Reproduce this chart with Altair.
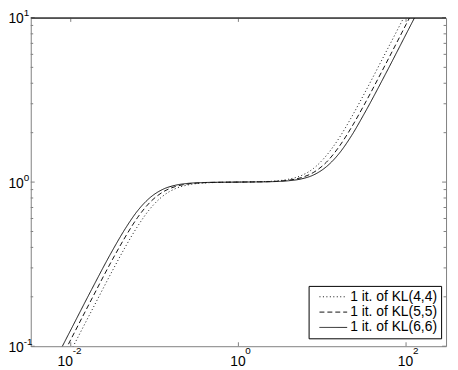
import altair as alt
import pandas as pd

# ---- data (log-log) ----
x_vals = [0.00316, 0.00562, 0.01, 0.0178, 0.0316, 0.0447, 0.0631, 0.0891, 0.126,
          0.178, 0.251, 0.398, 0.631, 1.0, 1.585, 2.512, 3.98, 5.62, 7.94, 11.2,
          15.85, 22.4, 31.6, 56.2, 100.0, 178.0, 316.0]
y_kl44 = [0.0295, 0.0525, 0.0933, 0.165, 0.290, 0.402, 0.540, 0.691, 0.823, 0.913,
          0.961, 0.988, 0.996, 1.0, 1.004, 1.012, 1.041, 1.095, 1.215, 1.45, 1.85,
          2.49, 3.44, 6.05, 10.7, 19.1, 33.9]
y_kl55 = [0.0347, 0.0617, 0.1096, 0.194, 0.339, 0.463, 0.611, 0.757, 0.871, 0.940,
          0.974, 0.992, 0.9975, 1.0, 1.0025, 1.008, 1.027, 1.064, 1.148, 1.32, 1.64,
          2.16, 2.95, 5.15, 9.12, 16.2, 28.8]
y_kl66 = [0.0398, 0.0708, 0.1256, 0.2223, 0.3846, 0.520, 0.671, 0.807, 0.904, 0.957,
          0.982, 0.994, 0.998, 1.0, 1.002, 1.006, 1.019, 1.045, 1.107, 1.24, 1.49,
          1.92, 2.60, 4.50, 7.96, 14.1, 25.1]
series_names = ["1 it. of KL(4,4)", "1 it. of KL(5,5)", "1 it. of KL(6,6)"]

x_major = [0.01, 1, 100]
x_exponents = ["-2", "0", "2"]
y_major = [0.1, 1, 10]
y_exponents = ["-1", "0", "1"]
y_minor = [0.2, 0.3, 0.4, 0.5, 0.6, 0.7, 0.8, 0.9, 2, 3, 4, 5, 6, 7, 8, 9]
x_domain = [1 / 300, 300]
y_domain = [0.1, 10]

rows = []
for name, ys in zip(series_names, [y_kl44, y_kl55, y_kl66]):
    for xv, yv in zip(x_vals, ys):
        rows.append({"x": xv, "y": yv, "series": name})
df = pd.DataFrame(rows)

FONT = "Liberation Sans"
AX = "#808080"
W, H = 420, 332

xscale = alt.Scale(type="log", domain=x_domain, nice=False)
yscale = alt.Scale(type="log", domain=y_domain, nice=False)

xaxis = alt.Axis(values=x_major, title=None, grid=False, ticks=False, domain=False,
                 labelExpr="'10'", labelFont=FONT, labelFontSize=14,
                 labelColor="black", labelPadding=9,
                 labelOffset={"condition": {"test": "datum.value < 0.1", "value": -6},
                              "value": -1})
yaxis = alt.Axis(values=y_major, title=None, grid=False, ticks=False, domain=False,
                 labelExpr="'10'", labelFont=FONT, labelFontSize=14,
                 labelColor="black", labelPadding=7.5, labelOffset=1)

lines = alt.Chart(df).mark_line(clip=True, color="#111111", strokeWidth=1,
                                interpolate="monotone").encode(
    x=alt.X("x:Q", scale=xscale, axis=xaxis),
    y=alt.Y("y:Q", scale=yscale, axis=yaxis),
    strokeDash=alt.StrokeDash(
        "series:N",
        scale=alt.Scale(domain=series_names, range=[[1, 2.5], [5, 3], [1, 0]]),
        legend=alt.Legend(orient="none", legendX=281, legendY=271, title=None,
                          symbolType="M0,0H8", symbolSize=49, symbolStrokeWidth=1,
                          symbolStrokeColor="#111111", symbolOffset=0,
                          labelFont=FONT, labelFontSize=14, labelColor="black",
                          labelOffset=24, fillColor="white", strokeColor="black",
                          padding=4, rowPadding=1.5, cornerRadius=0)),
)

ymaj = pd.DataFrame({"v": y_major})
ymin = pd.DataFrame({"v": y_minor})
xmaj = pd.DataFrame({"v": x_major})

def yticks(data, x0, x1):
    return alt.Chart(data).mark_rule(color=AX, strokeWidth=1).encode(
        y=alt.Y("v:Q", scale=yscale, axis=yaxis), x=alt.value(x0), x2=alt.value(x1))

def xticks(data, y0, y1):
    return alt.Chart(data).mark_rule(color=AX, strokeWidth=1).encode(
        x=alt.X("v:Q", scale=xscale, axis=xaxis), y=alt.value(y0), y2=alt.value(y1))

top_line = alt.Chart(pd.DataFrame({"v": [y_domain[1]]})).mark_rule(
    color="black", strokeWidth=1).encode(
    y=alt.Y("v:Q", scale=yscale, axis=yaxis), x=alt.value(0), x2=alt.value(W))

xexp = pd.DataFrame({"v": x_major, "e": x_exponents})
x_exp_neg = alt.Chart(xexp[xexp["v"] < 0.1]).mark_text(
    align="left", baseline="middle", dx=2, fontSize=10, font=FONT, color="black").encode(
    x=alt.X("v:Q", scale=xscale, axis=xaxis), y=alt.value(H + 4.5), text="e:N")
x_exp_pos = alt.Chart(xexp[xexp["v"] >= 0.1]).mark_text(
    align="left", baseline="middle", dx=7, fontSize=10, font=FONT, color="black").encode(
    x=alt.X("v:Q", scale=xscale, axis=xaxis), y=alt.value(H + 4.5), text="e:N")
y_exp = alt.Chart(pd.DataFrame({"v": y_major, "e": y_exponents})).mark_text(
    align="left", baseline="middle", dy=-4.5, fontSize=10, font=FONT, color="black").encode(
    y=alt.Y("v:Q", scale=yscale, axis=yaxis), x=alt.value(-7), text="e:N")

chart = alt.layer(
    yticks(ymaj, 0, 4), yticks(ymin, 0, 2.5),
    yticks(ymaj, W, W - 4), yticks(ymin, W, W - 2.5),
    xticks(xmaj, H, H - 4), xticks(xmaj, 0, 4),
    top_line, x_exp_neg, x_exp_pos, y_exp,
    lines,
).properties(
    width=W, height=H,
    padding={"left": 23, "top": 8, "right": 4, "bottom": 22},
    autosize=alt.AutoSizeParams(type="none"),
).configure_view(stroke=AX, strokeWidth=1)

chart.save("out.html", embed_options={"renderer": "svg", "actions": False})
